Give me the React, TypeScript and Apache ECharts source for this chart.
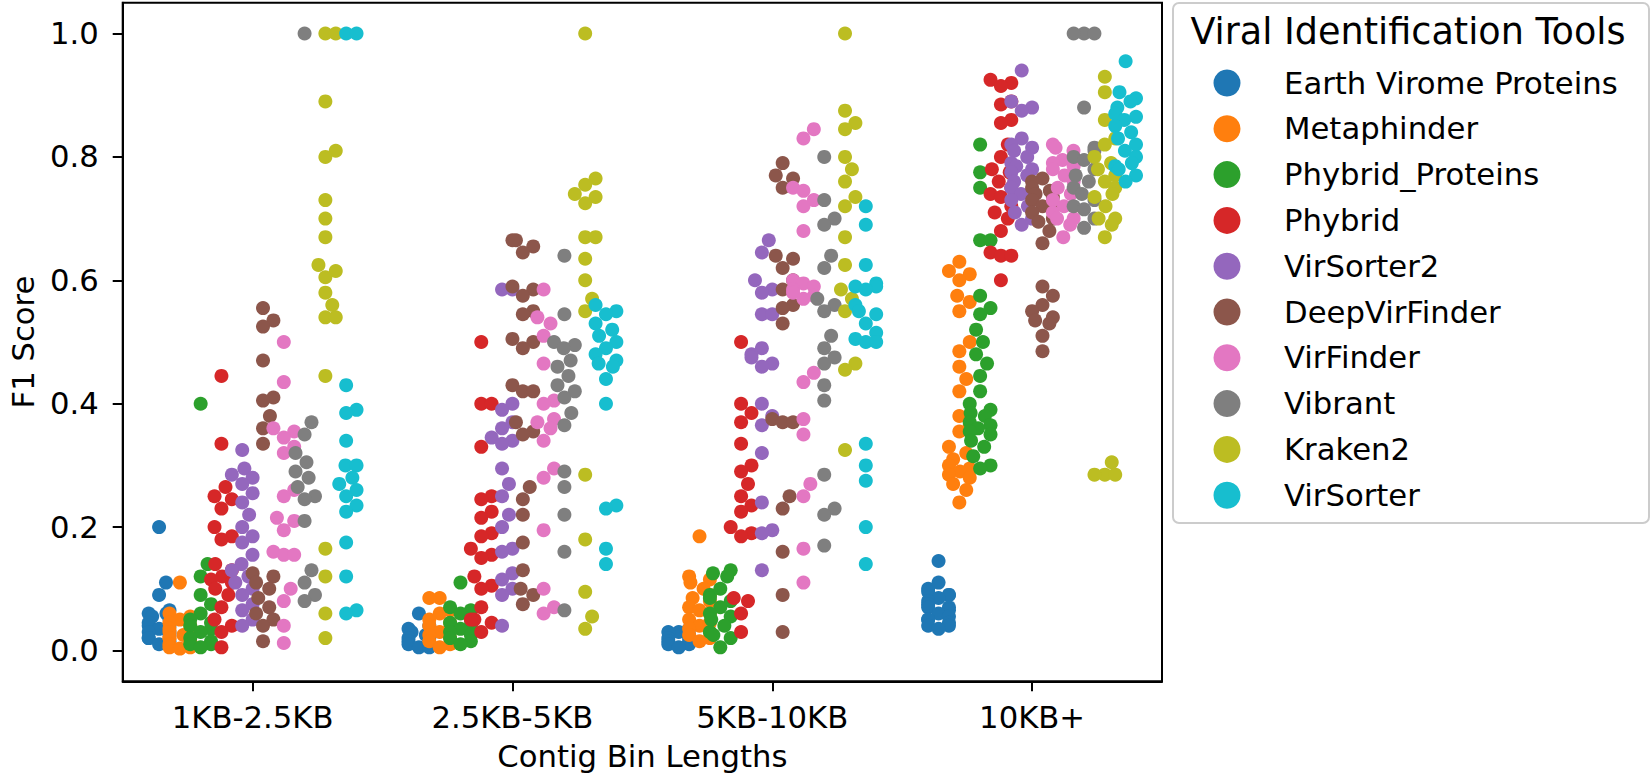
import React, { useEffect, useRef } from "react";
import * as echarts from "echarts";

const bins = ["1KB-2.5KB", "2.5KB-5KB", "5KB-10KB", "10KB+"];
const tools = [
  "Earth Virome Proteins",
  "Metaphinder",
  "Phybrid_Proteins",
  "Phybrid",
  "VirSorter2",
  "DeepVirFinder",
  "VirFinder",
  "Vibrant",
  "Kraken2",
  "VirSorter",
];
const colors = ["#1f77b4", "#ff7f0e", "#2ca02c", "#d62728", "#9467bd", "#8c564b", "#e377c2", "#7f7f7f", "#bcbd22", "#17becf"];
const yTickValues = [0, 0.2, 0.4, 0.6, 0.8, 1.0];

// F1 scores per tool, one list per contig bin (same order as bins)
const earthViromeProteins = [
  [0.20, 0.11, 0.09, 0.065, 0.06, 0.06, 0.055, 0.05, 0.045, 0.04, 0.04, 0.035, 0.03, 0.03, 0.025, 0.02, 0.02, 0.015, 0.01],
  [0.06, 0.04, 0.035, 0.03, 0.03, 0.025, 0.02, 0.02, 0.015, 0.01, 0.01, 0.005, 0.005],
  [0.035, 0.03, 0.03, 0.025, 0.02, 0.02, 0.015, 0.015, 0.01, 0.01, 0.005],
  [0.145, 0.11, 0.10, 0.095, 0.09, 0.09, 0.085, 0.08, 0.075, 0.07, 0.07, 0.065, 0.06, 0.055, 0.05, 0.05, 0.045, 0.04, 0.04, 0.035],
];
const metaphinder = [
  [0.11, 0.06, 0.055, 0.05, 0.045, 0.04, 0.035, 0.03, 0.03, 0.025, 0.02, 0.02, 0.015, 0.01, 0.01, 0.005, 0.005, 0.003],
  [0.085, 0.085, 0.065, 0.06, 0.05, 0.045, 0.04, 0.035, 0.03, 0.025, 0.02, 0.015, 0.01, 0.005],
  [0.185, 0.12, 0.115, 0.11, 0.10, 0.09, 0.085, 0.08, 0.07, 0.065, 0.06, 0.05, 0.045, 0.04, 0.035, 0.03, 0.025, 0.02, 0.015],
  [0.63, 0.615, 0.61, 0.60, 0.575, 0.565, 0.55, 0.50, 0.485, 0.46, 0.44, 0.42, 0.38, 0.365, 0.355, 0.33, 0.32, 0.31, 0.30, 0.295, 0.29, 0.285, 0.28, 0.27, 0.26, 0.24],
];
const phybridProteins = [
  [0.40, 0.14, 0.12, 0.09, 0.075, 0.06, 0.05, 0.045, 0.04, 0.035, 0.03, 0.02, 0.015, 0.01, 0.01, 0.005],
  [0.11, 0.07, 0.065, 0.06, 0.05, 0.045, 0.04, 0.035, 0.03, 0.025, 0.02, 0.015, 0.01],
  [0.13, 0.125, 0.12, 0.10, 0.09, 0.085, 0.08, 0.07, 0.06, 0.055, 0.05, 0.04, 0.03, 0.025, 0.02, 0.005],
  [0.82, 0.775, 0.75, 0.665, 0.665, 0.575, 0.555, 0.545, 0.52, 0.50, 0.48, 0.465, 0.445, 0.42, 0.40, 0.39, 0.385, 0.38, 0.37, 0.365, 0.36, 0.355, 0.35, 0.34, 0.33, 0.315, 0.30, 0.295],
];
const phybrid = [
  [0.445, 0.335, 0.265, 0.25, 0.245, 0.23, 0.20, 0.185, 0.18, 0.14, 0.13, 0.12, 0.115, 0.11, 0.10, 0.09, 0.07, 0.05, 0.04, 0.03, 0.005],
  [0.50, 0.40, 0.40, 0.33, 0.25, 0.245, 0.225, 0.215, 0.19, 0.185, 0.165, 0.155, 0.15, 0.12, 0.105, 0.10, 0.07, 0.05, 0.05, 0.045, 0.03],
  [0.50, 0.40, 0.385, 0.37, 0.335, 0.30, 0.29, 0.27, 0.25, 0.235, 0.225, 0.20, 0.19, 0.185, 0.085, 0.08, 0.06, 0.03],
  [0.925, 0.92, 0.915, 0.89, 0.885, 0.86, 0.855, 0.82, 0.80, 0.78, 0.775, 0.76, 0.75, 0.74, 0.735, 0.72, 0.71, 0.70, 0.68, 0.645, 0.64, 0.64, 0.60],
];
const virSorter2 = [
  [0.325, 0.295, 0.285, 0.28, 0.27, 0.255, 0.24, 0.22, 0.20, 0.185, 0.175, 0.155, 0.14, 0.13, 0.12, 0.11, 0.10, 0.09, 0.075, 0.065, 0.05, 0.04],
  [0.585, 0.585, 0.40, 0.39, 0.37, 0.36, 0.345, 0.34, 0.335, 0.295, 0.27, 0.25, 0.22, 0.20, 0.165, 0.16, 0.125, 0.115, 0.10, 0.09, 0.04],
  [0.665, 0.645, 0.60, 0.585, 0.58, 0.545, 0.545, 0.49, 0.48, 0.475, 0.465, 0.46, 0.40, 0.38, 0.365, 0.32, 0.24, 0.195, 0.19, 0.13],
  [0.94, 0.89, 0.88, 0.875, 0.83, 0.82, 0.815, 0.81, 0.80, 0.79, 0.785, 0.78, 0.775, 0.77, 0.76, 0.75, 0.745, 0.74, 0.73, 0.72, 0.71, 0.70, 0.69],
];
const deepVirFinder = [
  [0.555, 0.535, 0.525, 0.47, 0.41, 0.405, 0.38, 0.36, 0.335, 0.125, 0.12, 0.11, 0.10, 0.085, 0.07, 0.06, 0.05, 0.04, 0.015],
  [0.665, 0.665, 0.655, 0.645, 0.59, 0.585, 0.575, 0.55, 0.545, 0.505, 0.50, 0.49, 0.43, 0.42, 0.42, 0.37, 0.355, 0.35, 0.265, 0.245, 0.22, 0.175, 0.13, 0.10, 0.09, 0.075],
  [0.79, 0.77, 0.765, 0.75, 0.64, 0.635, 0.62, 0.60, 0.585, 0.56, 0.555, 0.53, 0.375, 0.37, 0.37, 0.25, 0.23, 0.16, 0.09, 0.03],
  [0.765, 0.76, 0.75, 0.745, 0.74, 0.735, 0.73, 0.725, 0.72, 0.71, 0.70, 0.695, 0.68, 0.66, 0.59, 0.575, 0.56, 0.55, 0.54, 0.535, 0.53, 0.51, 0.485],
];
const virFinder = [
  [0.50, 0.435, 0.36, 0.355, 0.345, 0.33, 0.32, 0.26, 0.25, 0.215, 0.21, 0.195, 0.16, 0.155, 0.155, 0.10, 0.08, 0.04, 0.012],
  [0.585, 0.54, 0.53, 0.51, 0.465, 0.405, 0.40, 0.375, 0.37, 0.36, 0.34, 0.295, 0.28, 0.195, 0.10, 0.07, 0.06],
  [0.845, 0.83, 0.75, 0.745, 0.73, 0.72, 0.68, 0.60, 0.595, 0.59, 0.585, 0.58, 0.575, 0.57, 0.45, 0.435, 0.375, 0.35, 0.27, 0.25, 0.165, 0.11],
  [0.82, 0.815, 0.81, 0.80, 0.795, 0.79, 0.785, 0.78, 0.77, 0.76, 0.75, 0.74, 0.73, 0.72, 0.71, 0.70, 0.70, 0.69, 0.67],
];
const vibrant = [
  [1.0, 0.37, 0.35, 0.32, 0.305, 0.29, 0.28, 0.265, 0.25, 0.245, 0.21, 0.13, 0.11, 0.09, 0.08],
  [0.64, 0.545, 0.50, 0.495, 0.49, 0.47, 0.46, 0.445, 0.43, 0.42, 0.41, 0.385, 0.365, 0.29, 0.265, 0.22, 0.16, 0.065],
  [0.80, 0.73, 0.70, 0.69, 0.64, 0.62, 0.57, 0.56, 0.55, 0.51, 0.49, 0.475, 0.465, 0.43, 0.405, 0.285, 0.23, 0.22, 0.17],
  [1.0, 1.0, 1.0, 0.88, 0.815, 0.81, 0.80, 0.795, 0.78, 0.77, 0.76, 0.75, 0.74, 0.73, 0.72, 0.715, 0.70, 0.685],
];
const kraken2 = [
  [1.0, 1.0, 0.89, 0.81, 0.80, 0.73, 0.70, 0.67, 0.625, 0.615, 0.605, 0.58, 0.56, 0.54, 0.54, 0.445, 0.165, 0.12, 0.06, 0.02],
  [1.0, 0.765, 0.755, 0.74, 0.735, 0.725, 0.67, 0.67, 0.635, 0.60, 0.57, 0.55, 0.285, 0.18, 0.095, 0.055, 0.035],
  [1.0, 0.875, 0.855, 0.845, 0.80, 0.78, 0.76, 0.735, 0.72, 0.67, 0.625, 0.585, 0.57, 0.55, 0.465, 0.455, 0.325],
  [0.93, 0.905, 0.86, 0.83, 0.82, 0.80, 0.79, 0.78, 0.77, 0.76, 0.75, 0.74, 0.735, 0.72, 0.70, 0.70, 0.69, 0.67, 0.305, 0.285, 0.285, 0.285],
];
const virSorter = [
  [1.0, 1.0, 0.43, 0.39, 0.385, 0.34, 0.30, 0.30, 0.28, 0.27, 0.26, 0.25, 0.235, 0.225, 0.175, 0.12, 0.065, 0.06],
  [0.56, 0.55, 0.545, 0.53, 0.52, 0.51, 0.50, 0.49, 0.48, 0.47, 0.465, 0.46, 0.44, 0.40, 0.235, 0.23, 0.165, 0.14],
  [0.72, 0.69, 0.625, 0.595, 0.59, 0.59, 0.585, 0.56, 0.55, 0.545, 0.53, 0.515, 0.505, 0.50, 0.50, 0.335, 0.30, 0.275, 0.20, 0.14],
  [0.955, 0.905, 0.895, 0.89, 0.88, 0.87, 0.865, 0.86, 0.85, 0.84, 0.83, 0.82, 0.81, 0.80, 0.79, 0.785, 0.78, 0.77, 0.76],
];
const toolData = [earthViromeProteins, metaphinder, phybridProteins, phybrid, virSorter2, deepVirFinder, virFinder, vibrant, kraken2, virSorter];

// ---- layout constants ----
const W = 1651;
const H = 778;
const G_LEFT = 116.5;
const G_RIGHT_EDGE = 1162;
const G_TOP = 2.7;
const G_BOTTOM_EDGE = 681.3;
const X_MIN = -0.5;
const X_MAX = 3.5;
const Y_MIN = -0.05;
const Y_MAX = 1.05;
const MARKER = 14;
const FONT = "DejaVu Sans";

const pxPerX = (G_RIGHT_EDGE - G_LEFT) / (X_MAX - X_MIN);
const pxPerY = (G_BOTTOM_EDGE - G_TOP) / (Y_MAX - Y_MIN);
const nHue = tools.length;
const slot = 0.8 / nHue;
const halfSlotPx = (slot / 2) * pxPerX;

// seaborn-like beeswarm in pixel space, then gutter clamp
function beeswarm(values: number[], d: number): number[] {
  const ys = values.map((v) => v * pxPerY);
  const order = ys.map((_, i) => i).sort((a, b) => ys[a] - ys[b]);
  const placed: { x: number; y: number }[] = [];
  const out: number[] = new Array(ys.length).fill(0);
  for (const i of order) {
    const y = ys[i];
    const nb = placed.filter((p) => Math.abs(p.y - y) < d);
    const cands = [0];
    for (const n of nb) {
      const dy = y - n.y;
      const dx = Math.sqrt(Math.max(d * d - dy * dy, 0)) * 1.05;
      cands.push(n.x + dx, n.x - dx);
    }
    cands.sort((a, b) => Math.abs(a) - Math.abs(b));
    let chosen = cands[0];
    for (const c of cands) {
      if (nb.every((n) => (n.x - c) ** 2 + (n.y - y) ** 2 >= d * d * 0.999)) {
        chosen = c;
        break;
      }
    }
    placed.push({ x: chosen, y });
    out[i] = chosen;
  }
  return out.map((x) => Math.max(-halfSlotPx, Math.min(halfSlotPx, x)));
}

export default function App() {
  const ref = useRef<HTMLDivElement>(null);
  useEffect(() => {
    if (!ref.current) return;
    const chart = echarts.init(ref.current, undefined, { renderer: "svg" });

    const series = tools.map((name, h) => {
      const data: number[][] = [];
      toolData[h].forEach((vals, b) => {
        const center = b + (-0.4 + slot * (h + 0.5));
        const offs = beeswarm(vals, MARKER);
        vals.forEach((v, k) => data.push([center + offs[k] / pxPerX, v]));
      });
      return {
        name,
        type: "scatter",
        data,
        symbol: "circle",
        symbolSize: MARKER,
        itemStyle: { color: colors[h], opacity: 1 },
        z: 2 + h,
      };
    });

    const legendX = 1173;
    const legendY = 3;
    const legendW = 476;
    const legendH = 520;
    const rowStart = 83;
    const rowGap = 45.8;
    const legendChildren: any[] = [
      {
        type: "rect",
        shape: { x: legendX, y: legendY, width: legendW, height: legendH, r: 6 },
        style: { fill: "#ffffff", stroke: "#cccccc", lineWidth: 2 },
      },
      {
        type: "text",
        x: 1408,
        y: 31,
        style: {
          text: "Viral Identification Tools",
          fontFamily: FONT,
          fontSize: 36.6,
          fill: "#000",
          align: "center",
          verticalAlign: "middle",
        },
      },
    ];
    tools.forEach((t, i) => {
      const cy = rowStart + rowGap * i;
      legendChildren.push({
        type: "circle",
        shape: { cx: 1227, cy, r: 13.5 },
        style: { fill: colors[i] },
      });
      legendChildren.push({
        type: "text",
        x: 1284,
        y: cy,
        style: {
          text: t,
          fontFamily: FONT,
          fontSize: 30.7,
          fill: "#000",
          align: "left",
          verticalAlign: "middle",
        },
      });
    });

    chart.setOption({
      animation: false,
      backgroundColor: "#ffffff",
      textStyle: { fontFamily: FONT },
      grid: {
        left: G_LEFT,
        right: W - G_RIGHT_EDGE,
        top: G_TOP,
        bottom: H - G_BOTTOM_EDGE,
        show: true,
        borderColor: "#000",
        borderWidth: 2,
        backgroundColor: "transparent",
        containLabel: false,
      },
      xAxis: {
        type: "value",
        min: X_MIN,
        max: X_MAX,
        name: "Contig Bin Lengths",
        nameLocation: "middle",
        nameGap: 60,
        nameTextStyle: { fontFamily: FONT, fontSize: 30.7, color: "#000" },
        axisLine: { show: true, onZero: false, lineStyle: { color: "#000", width: 2 } },
        axisTick: { show: true, length: 10, lineStyle: { color: "#000", width: 2 }, customValues: [0, 1, 2, 3] },
        axisLabel: {
          show: true,
          customValues: [0, 1, 2, 3],
          formatter: (v: number) => bins[Math.round(v)] ?? "",
          fontFamily: FONT,
          fontSize: 30.7,
          color: "#000",
          margin: 21,
        },
        splitLine: { show: false },
      },
      yAxis: {
        type: "value",
        min: Y_MIN,
        max: Y_MAX,
        name: "F1 Score",
        nameLocation: "middle",
        nameGap: 80,
        nameRotate: 90,
        nameTextStyle: { fontFamily: FONT, fontSize: 30.7, color: "#000" },
        axisLine: { show: true, onZero: false, lineStyle: { color: "#000", width: 2 } },
        axisTick: { show: true, length: 10, lineStyle: { color: "#000", width: 2 }, customValues: yTickValues },
        axisLabel: {
          show: true,
          customValues: yTickValues,
          formatter: (v: number) => v.toFixed(1),
          fontFamily: FONT,
          fontSize: 30.7,
          color: "#000",
          margin: 24,
        },
        splitLine: { show: false },
      },
      series,
      graphic: [{ type: "group", children: legendChildren }],
    });

    return () => chart.dispose();
  }, []);

  return (
    <div
      ref={ref}
      style={{ position: "absolute", left: 0, top: 0, width: W, height: H, background: "#fff" }}
    />
  );
}
